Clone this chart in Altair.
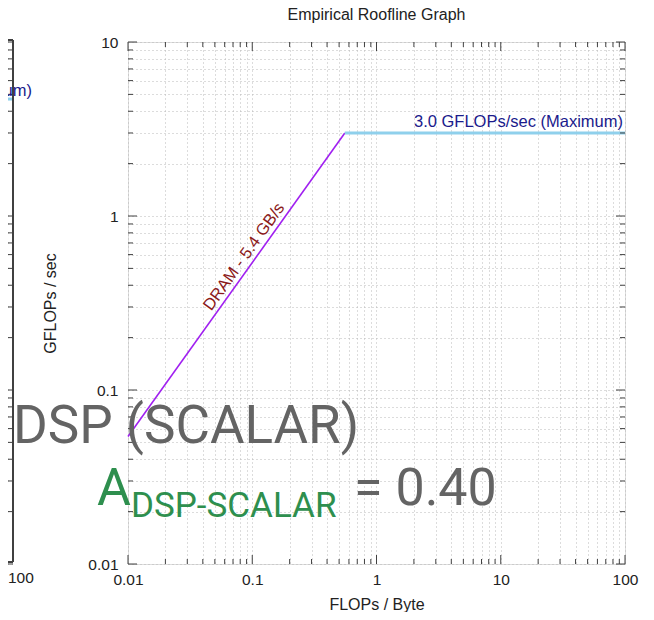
import altair as alt
import pandas as pd

# ---------------- data ----------------
title_text = "Empirical Roofline Graph"
x_title = "FLOPs / Byte"
y_title = "GFLOPs / sec"

# memory roof (DRAM) and compute roof (peak)
dram_x = [0.01, 0.556]
dram_y = [0.054, 3.0]
peak_x = [0.556, 100]
peak_y = [3.0, 3.0]
dram_label = "DRAM - 5.4 GB/s"
dram_label_x = [0.1]
dram_label_y = [0.54]
peak_label = "3.0 GFLOPs/sec (Maximum)"
peak_label_x = [100]
peak_label_y = [3.0]

# neighbouring panel (only its right edge is visible)
prev_peak_y = [4.7]
prev_peak_label = "4.7 GFLOPs/sec (Maximum)"
prev_x_label = "100"

# axes
x_major = [0.01, 0.1, 1, 10, 100]
y_major = [0.01, 0.1, 1, 10]
mult = [2, 3, 4, 5, 6, 7, 8, 9]
x_minor = [round(d * m, 6) for d in x_major[:-1] for m in mult]
y_minor = [round(d * m, 6) for d in y_major[:-1] for m in mult]

# overlay text
overlay_title = "DSP (SCALAR)"
overlay_sym = "A"
overlay_sub = "DSP-SCALAR"
overlay_val = "= 0.40"

# ---------------- layout ----------------
W, H = 497, 522
FONT = "Liberation Sans"
GRAY = "#646464"
GREEN = "#2e8f4e"
TICK = "#404040"

xs = alt.Scale(type="log", domain=[0.01, 100], nice=False)
ys = alt.Scale(type="log", domain=[0.01, 10], nice=False)

major_x_expr = "indexof([" + ",".join(str(v) for v in x_major) + "], datum.value) >= 0 ? format(datum.value, '') : ''"
major_y_expr = "indexof([" + ",".join(str(v) for v in y_major) + "], datum.value) >= 0 ? format(datum.value, '') : ''"

xaxis = alt.Axis(values=x_major + x_minor, labelExpr=major_x_expr, ticks=False, domain=False,
                 grid=True, gridDash=[1, 3], gridColor="#b8b8b8", gridWidth=1,
                 labelFont=FONT, labelFontSize=15.5, labelColor="#222", labelPadding=8,
                 labelOverlap=False, labelFlush=False,
                 title=x_title, titleFont=FONT, titleFontSize=16, titleFontWeight="normal",
                 titleColor="#222", titlePadding=9)
yaxis = alt.Axis(values=y_major + y_minor, labelExpr=major_y_expr, ticks=False, domain=False,
                 grid=True, gridDash=[1, 3], gridColor="#b8b8b8", gridWidth=1,
                 labelFont=FONT, labelFontSize=15.5, labelColor="#222", labelPadding=10,
                 labelOverlap=False, labelFlush=False,
                 title=y_title, titleFont=FONT, titleFontSize=16, titleFontWeight="normal",
                 titleColor="#222", titlePadding=29)


def X(field="x"):
    return alt.X(f"{field}:Q", scale=xs, axis=xaxis)


def Y(field="y"):
    return alt.Y(f"{field}:Q", scale=ys, axis=yaxis)


dram_df = pd.DataFrame({"x": dram_x, "y": dram_y})
peak_df = pd.DataFrame({"x": peak_x, "y": peak_y})

dram_line = alt.Chart(dram_df).mark_line(color="#a020f0", strokeWidth=1.6).encode(x=X(), y=Y())
peak_line = alt.Chart(peak_df).mark_line(color="#8fd0ec", strokeWidth=3).encode(x=X(), y=Y())

dram_text = alt.Chart(pd.DataFrame({"x": dram_label_x, "y": dram_label_y})).mark_text(
    text=dram_label, angle=305.4, align="center", baseline="alphabetic", dy=-5,
    font=FONT, fontSize=16.5, color="#8b1a1a").encode(x=X(), y=Y())
peak_text = alt.Chart(pd.DataFrame({"x": peak_label_x, "y": peak_label_y})).mark_text(
    text=peak_label, align="right", baseline="alphabetic", dx=-2, dy=-6,
    font=FONT, fontSize=16.5, color="#1a1a8c").encode(x=X(), y=Y())

# inward tick marks on all four sides
layers = []
for vals, L in ((x_major, 9), (x_minor, 5)):
    df = pd.DataFrame({"x": vals})
    layers.append(alt.Chart(df).mark_rule(color=TICK, strokeWidth=1).encode(
        x=X(), y=alt.value(H), y2=alt.value(H - L)))
    layers.append(alt.Chart(df).mark_rule(color=TICK, strokeWidth=1).encode(
        x=X(), y=alt.value(0), y2=alt.value(L)))
for vals, L in ((y_major, 9), (y_minor, 5)):
    df = pd.DataFrame({"y": vals})
    layers.append(alt.Chart(df).mark_rule(color=TICK, strokeWidth=1).encode(
        y=Y(), x=alt.value(0), x2=alt.value(L)))
    layers.append(alt.Chart(df).mark_rule(color=TICK, strokeWidth=1).encode(
        y=Y(), x=alt.value(W), x2=alt.value(W - L)))

# neighbouring panel sliver (left edge of the picture)
PX = -115
for vals in (y_major, y_minor):
    df = pd.DataFrame({"y": vals})
    layers.append(alt.Chart(df).mark_rule(color="#b8b8b8", strokeDash=[1, 3]).encode(
        y=Y(), x=alt.value(-140), x2=alt.value(PX)))
for vals, L in ((y_major, 9), (y_minor, 5)):
    df = pd.DataFrame({"y": vals})
    layers.append(alt.Chart(df).mark_rule(color=TICK, strokeWidth=1).encode(
        y=Y(), x=alt.value(PX), x2=alt.value(PX - L)))
prev_df = pd.DataFrame({"y": prev_peak_y})
layers.append(alt.Chart(prev_df).mark_rule(color="#8fd0ec", strokeWidth=3).encode(
    y=Y(), x=alt.value(-140), x2=alt.value(PX)))
layers.append(alt.Chart(prev_df).mark_text(
    text=prev_peak_label, align="right", baseline="alphabetic", dy=-3,
    font=FONT, fontSize=16.5, color="#1a1a8c").encode(y=Y(), x=alt.value(-96)))
layers.append(alt.Chart(pd.DataFrame({"a": [0]})).mark_rule(color=TICK, strokeWidth=2).encode(
    x=alt.value(PX), y=alt.value(-2), y2=alt.value(H - 2)))
layers.append(alt.Chart(pd.DataFrame({"a": [0]})).mark_rule(color=TICK, strokeWidth=2).encode(
    x=alt.value(-140), x2=alt.value(PX), y=alt.value(H - 2)))
layers.append(alt.Chart(pd.DataFrame({"a": [0]})).mark_rule(color=TICK, strokeWidth=2).encode(
    x=alt.value(-140), x2=alt.value(PX), y=alt.value(-2)))
layers.append(alt.Chart(pd.DataFrame({"a": [0]})).mark_text(
    text=prev_x_label, align="left", baseline="top", font=FONT, fontSize=15.5, color="#222").encode(
    x=alt.value(-120), y=alt.value(H + 7)))

# chart title (drawn as a text mark so its place above the frame is exact)
title_mark = alt.Chart(pd.DataFrame({"a": [0]})).mark_text(
    text=title_text, align="center", baseline="alphabetic", font=FONT, fontSize=16,
    color="#222").encode(x=alt.value(W / 2), y=alt.value(-22))

# overlay annotation
ov = pd.DataFrame({"a": [0]})
o1 = alt.Chart(ov).mark_text(text=overlay_title, align="left", baseline="alphabetic",
                             font="Roboto", fontSize=53, color=GRAY).encode(
    x=alt.value(-115), y=alt.value(401))
o2 = alt.Chart(ov).mark_text(text=overlay_sym, align="left", baseline="alphabetic",
                             font="Roboto", fontSize=52, color=GREEN).encode(
    x=alt.value(-31), y=alt.value(463))
o3 = alt.Chart(ov).mark_text(text=overlay_sub, align="left", baseline="alphabetic",
                             font="Roboto", fontSize=35, color=GREEN).encode(
    x=alt.value(3), y=alt.value(475))
o4 = alt.Chart(ov).mark_text(text=overlay_val, align="left", baseline="alphabetic",
                             font="Roboto", fontSize=52, color=GRAY).encode(
    x=alt.value(226), y=alt.value(463))

chart = alt.layer(
    dram_line, peak_line, *layers, dram_text, peak_text, title_mark, o1, o2, o3, o4
).properties(
    width=W, height=H,
    padding={"left": 120, "top": 34, "right": 20, "bottom": 48},
    autosize=alt.AutoSizeParams(type="none"),
).configure_view(stroke=TICK, strokeWidth=2).configure(background="white")

chart.save("out.html", embed_options={"renderer": "svg", "actions": False})
